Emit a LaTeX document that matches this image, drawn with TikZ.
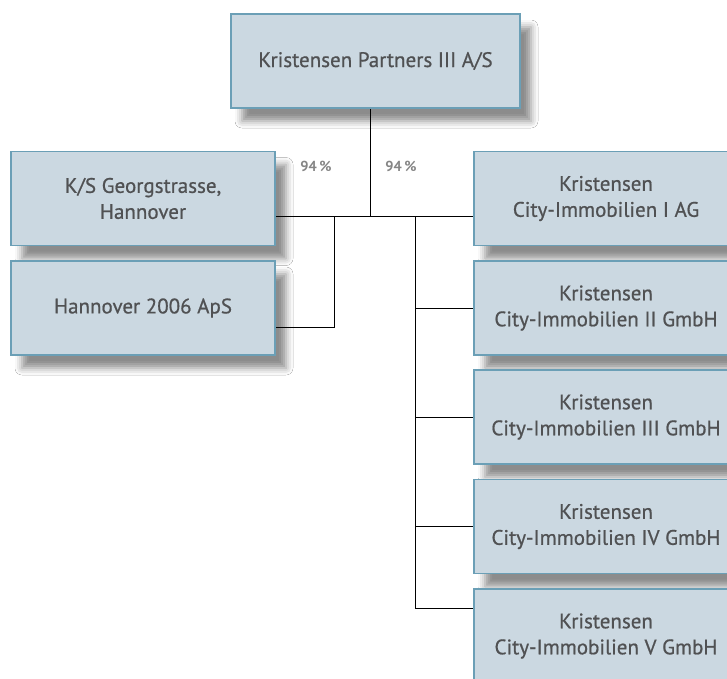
\documentclass[tikz,border=0pt]{standalone}
\usepackage{fontspec}
\setmainfont{PT Sans}
\newfontfamily\firmfont{PT Sans}[FakeBold=0.7]
\usetikzlibrary{shadows.blur}
\definecolor{boxfill}{HTML}{CBD8E1}
\definecolor{boxline}{HTML}{6B9FB6}
\definecolor{boxtext}{HTML}{505153}
\definecolor{pcttext}{HTML}{858585}
\tikzset{
  firm/.style={draw=boxline, line width=1.6pt, fill=boxfill, text=boxtext,
    minimum width=264pt, minimum height=94pt, inner sep=0pt, align=center,
    font=\firmfont\fontsize{21}{26}\selectfont,
    blur shadow={shadow xshift=11pt, shadow yshift=-13pt, shadow blur radius=7pt, shadow opacity=45}},
  pct/.style={text=pcttext, font=\fontsize{14.5}{16}\selectfont\bfseries},
  link/.style={draw=black, line width=0.8pt}
}
\begin{document}
\begin{tikzpicture}[x=1pt,y=-1pt]
  \clip (0,0) rectangle (727,678);
  \fill[white] (0,0) rectangle (727,678);

  \node[firm, minimum width=289pt] (top) at (375.5,61) {Kristensen Partners III A/S};

  \node[firm] (ks)  at (143,198.5) {K/S Georgstrasse,\\Hannover};
  \node[firm] (han) at (143,308)   {Hannover 2006 ApS};

  \node[firm] (r1) at (606,198.5) {Kristensen\\City-Immobilien I AG};
  \node[firm] (r2) at (606,308)   {Kristensen\\City-Immobilien II GmbH};
  \node[firm] (r3) at (606,417)   {Kristensen\\City-Immobilien III GmbH};
  \node[firm] (r4) at (606,526.5) {Kristensen\\City-Immobilien IV GmbH};
  \node[firm] (r5) at (606,636)   {Kristensen\\City-Immobilien V GmbH};

  \node[pct] (pl) at (316,166) {94\,\%};
  \node[pct] (pr) at (401,166) {94\,\%};

  \coordinate (hub)  at (370,216);
  \coordinate (lbus) at (334,216);
  \coordinate (rbus) at (415,216);

  \draw[link] (hub |- top.south) -- (hub);
  \draw[link] (hub -| ks.east) -- (hub -| r1.west);
  \draw[link] (lbus) |- ([yshift=-19pt]han.east);
  \draw[link] (rbus) |- ([yshift=28pt]r5.west);
  \foreach \n in {r2,r3,r4}{
    \draw[link] (rbus |- \n.west) -- (\n.west);
  }
\end{tikzpicture}
\end{document}
